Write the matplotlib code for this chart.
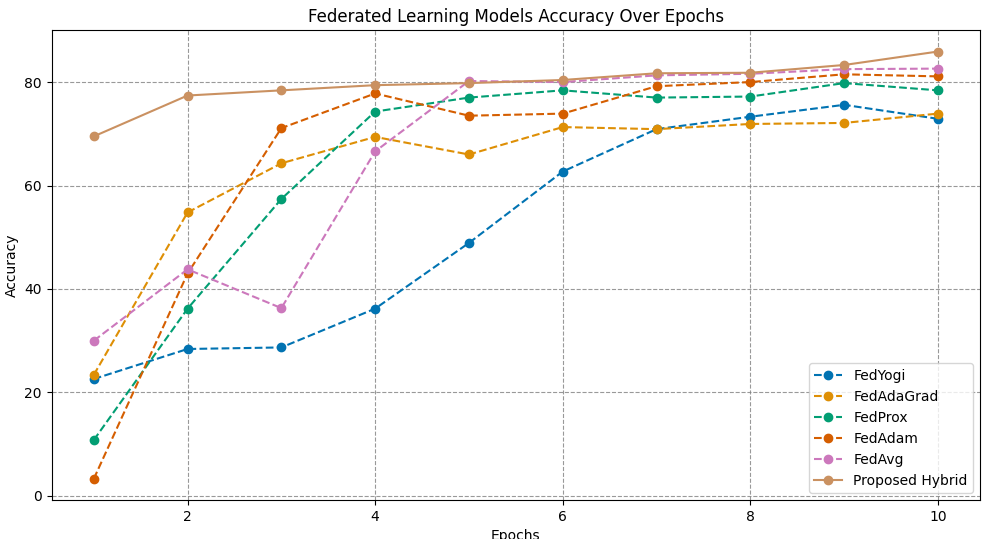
import matplotlib
matplotlib.use("Agg")
import matplotlib.pyplot as plt
import seaborn as sns

epochs = list(range(1, 11))
fedyogi = [22.6, 28.4, 28.7, 36.2, 48.9, 62.7, 70.9, 73.3, 75.6, 72.9]
fedadagrad = [23.4, 54.8, 64.3, 69.4, 66.0, 71.3, 70.9, 71.9, 72.1, 73.9]
fedprox = [10.8, 36.2, 57.4, 74.3, 77.0, 78.4, 77.0, 77.2, 79.8, 78.4]
fedadam = [3.3, 43.0, 71.1, 77.8, 73.5, 73.9, 79.2, 80.0, 81.5, 81.1]
fedavg = [30.0, 43.8, 36.3, 66.6, 80.2, 80.0, 81.3, 81.6, 82.5, 82.6]
hybrid = [69.5, 77.4, 78.4, 79.4, 79.8, 80.4, 81.7, 81.8, 83.3, 85.9]

pal = sns.color_palette("colorblind")

fig, ax = plt.subplots(figsize=(9.92, 5.39), dpi=100)
series = [("FedYogi", fedyogi), ("FedAdaGrad", fedadagrad), ("FedProx", fedprox),
          ("FedAdam", fedadam), ("FedAvg", fedavg)]
for i, (name, vals) in enumerate(series):
    ax.plot(epochs, vals, "--", marker="o", color=pal[i], label=name)
ax.plot(epochs, hybrid, "-", marker="o", color=pal[5], label="Proposed Hybrid")

ax.set_title("Federated Learning Models Accuracy Over Epochs")
ax.set_xlabel("Epochs")
ax.set_ylabel("Accuracy")
ax.grid(True, linestyle="--", color="gray", alpha=0.8)
ax.legend(loc="lower right")
fig.subplots_adjust(left=0.052, right=0.988, top=0.944, bottom=0.072)
fig.savefig("out.png")
